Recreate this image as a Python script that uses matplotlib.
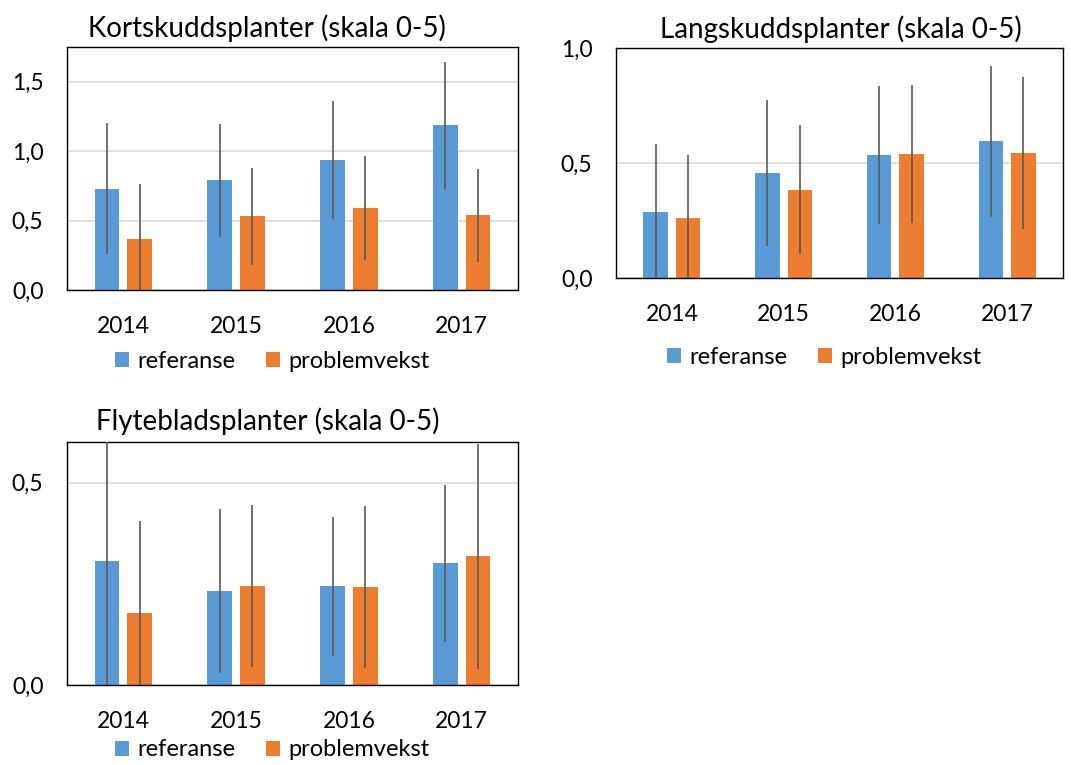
import matplotlib
matplotlib.use("Agg")
import matplotlib.pyplot as plt
import numpy as np

plt.rcParams['font.family'] = ['Lato', 'DejaVu Sans']

years = ["2014", "2015", "2016", "2017"]
series_names = ["referanse", "problemvekst"]

# Kortskuddsplanter
kort_ref = [0.73, 0.79, 0.935, 1.185]
kort_ref_err = [0.47, 0.405, 0.425, 0.455]
kort_prob = [0.37, 0.53, 0.59, 0.537]
kort_prob_err = [0.39, 0.352, 0.377, 0.337]

# Langskuddsplanter
lang_ref = [0.286, 0.455, 0.536, 0.594]
lang_ref_err = [0.297, 0.318, 0.30, 0.327]
lang_prob = [0.262, 0.384, 0.539, 0.544]
lang_prob_err = [0.271, 0.28, 0.30, 0.332]

# Flytebladsplanter
flyt_ref = [0.305, 0.232, 0.244, 0.301]
flyt_ref_err = [0.31, 0.202, 0.172, 0.194]
flyt_prob = [0.178, 0.244, 0.241, 0.318]
flyt_prob_err = [0.226, 0.20, 0.20, 0.278]

BLUE = "#5B9BD5"
ORANGE = "#ED7D31"
ERR = "#595959"
W, H = 1071, 765

fig = plt.figure(figsize=(W / 100, H / 100), dpi=100)


def px_axes(left, top, right, bottom):
    return fig.add_axes([left / W, (H - bottom) / H, (right - left) / W, (bottom - top) / H])


def panel(ax, ref, ref_err, prob, prob_err, ylim, yticks, title, title_xy, legend_xy):
    x = np.arange(len(years))
    off, bw = 0.145, 0.22
    b1 = ax.bar(x - off, ref, bw, color=BLUE, zorder=2)
    b2 = ax.bar(x + off, prob, bw, color=ORANGE, zorder=2)
    ax.errorbar(x - off, ref, yerr=ref_err, fmt="none", ecolor=ERR, elinewidth=1.2, capsize=0, zorder=3)
    ax.errorbar(x + off, prob, yerr=prob_err, fmt="none", ecolor=ERR, elinewidth=1.2, capsize=0, zorder=3)
    ax.set_xlim(-0.5, len(years) - 0.5)
    ax.set_ylim(*ylim)
    ax.set_yticks(yticks)
    ax.set_yticklabels([f"{v:.1f}".replace(".", ",") for v in yticks])
    ax.set_xticks(x)
    ax.set_xticklabels(years)
    ax.tick_params(axis="y", length=0, pad=17, labelsize=16.5)
    ax.tick_params(axis="x", length=0, pad=19, labelsize=16.5)
    ax.yaxis.grid(True, color="#D9D9D9", linewidth=1.2)
    ax.set_axisbelow(True)
    for s in ax.spines.values():
        s.set_color("#000000")
        s.set_linewidth(1.0)
    fig.text(title_xy[0] / W, (H - title_xy[1]) / H, title, ha="center", va="baseline", fontsize=20)
    ax.legend([b1, b2], series_names, loc="center", bbox_to_anchor=(legend_xy[0] / W, (H - legend_xy[1]) / H),
              bbox_transform=fig.transFigure, ncol=2, frameon=False, fontsize=17,
              handlelength=0.6, handleheight=0.6, handletextpad=0.35, columnspacing=1.3,
              borderpad=0.1)


ax1 = px_axes(67, 47, 518, 290)
panel(ax1, kort_ref, kort_ref_err, kort_prob, kort_prob_err, (0, 1.75), [0.0, 0.5, 1.0, 1.5],
      "Kortskuddsplanter (skala 0-5)", (267, 37), (272, 361))

ax2 = px_axes(616, 48, 1063, 278)
panel(ax2, lang_ref, lang_ref_err, lang_prob, lang_prob_err, (0, 1.0), [0.0, 0.5, 1.0],
      "Langskuddsplanter (skala 0-5)", (841, 38), (824, 357))

ax3 = px_axes(67, 442, 518, 685)
panel(ax3, flyt_ref, flyt_ref_err, flyt_prob, flyt_prob_err, (0, 0.6), [0.0, 0.5],
      "Flytebladsplanter (skala 0-5)", (268, 430), (272, 750))

fig.savefig("out.png", dpi=100)
